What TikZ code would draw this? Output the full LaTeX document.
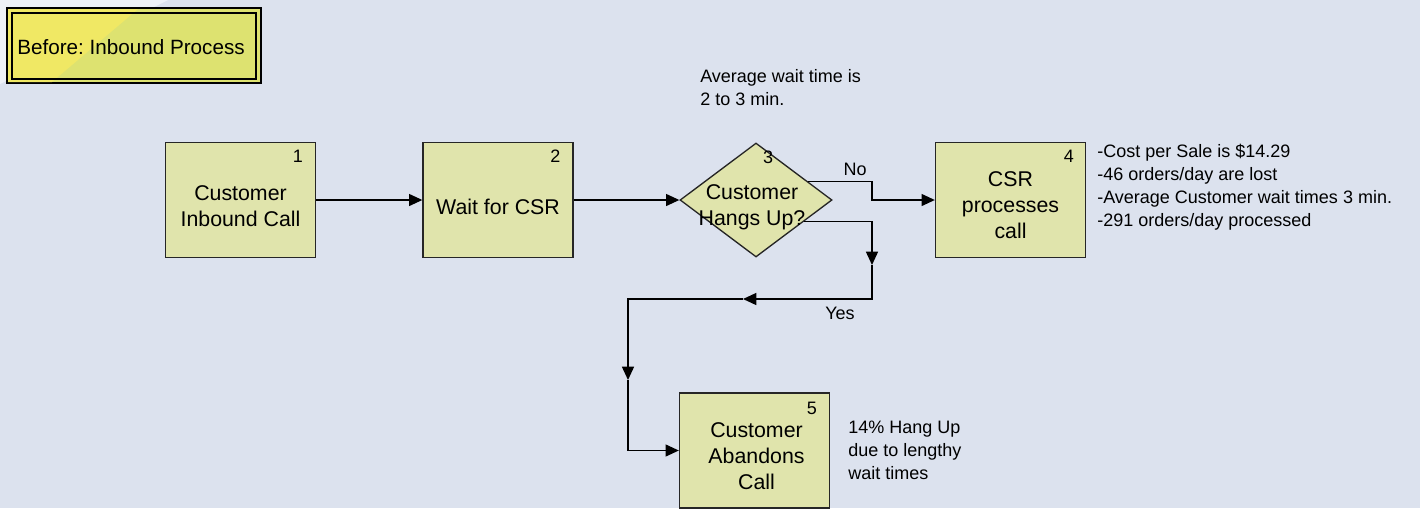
\documentclass[tikz,border=0pt]{standalone}
\usepackage{fontspec}
\setmainfont{Liberation Sans}
\usetikzlibrary{arrows.meta,shapes.geometric,calc}
\frenchspacing

\definecolor{bgblue}{RGB}{220,226,238}
\definecolor{cornerwhite}{RGB}{238,241,247}
\definecolor{boxfill}{RGB}{224,228,172}
\definecolor{titlegreen}{RGB}{221,226,112}
\definecolor{titleyellow}{RGB}{240,232,100}

\tikzset{
  procbox/.style={draw=black!85, line width=1pt, fill=boxfill, minimum width=112.5pt, minimum height=86.25pt, inner sep=0pt},
  decbox/.style={procbox, diamond, minimum width=114pt, minimum height=85.5pt},
  boxtext/.style={align=center, font=\fontsize{16}{19.5}\selectfont, inner sep=0pt},
  numtext/.style={font=\fontsize{13.5}{16}\selectfont, inner sep=0pt},
  notetext/.style={align=left, font=\fontsize{13.5}{17.25}\selectfont, inner sep=0pt, anchor=north west},
  flow/.style={line width=1.1pt, -{Triangle[length=10pt,width=9pt]}},
}

\begin{document}
\begin{tikzpicture}[x=0.75pt,y=0.75pt,yscale=-1,xscale=1]
\useasboundingbox (0,0) rectangle (1420,508);
%background
\fill[bgblue] (0,0) rectangle (1420,508);
\fill[cornerwhite] (0,0) -- (168,0) -- (0,84) -- cycle;

%Title box
\draw[line width=1.1pt, fill=titlegreen] (7,8) rectangle (261,83);
\fill[titleyellow] (8,9) -- (138,9) -- (52,82) -- (8,82) -- cycle;
\draw[line width=1.1pt] (12,13) rectangle (256,79);
% Text Node
\node[anchor=west, inner sep=0pt, font=\fontsize{15.5}{18}\selectfont] (title) at (17,47) {Before: Inbound Process};

%Process steps
\node[procbox] (b1) at (240.5,200) {};
\node[procbox] (b2) at (498,200) {};
\node[decbox] (d3) at (756,200) {};
\node[procbox] (b4) at (1010.5,200) {};
\node[procbox] (b5) at (754.5,450.5) {};

% Text Node
\node[boxtext] (t1) at ($(b1.center)+(0,6)$) {Customer\\Inbound Call};
\node[boxtext] (t2) at ($(b2.center)+(0,7)$) {Wait for CSR};
\node[boxtext] (t3) at ($(d3.center)+(-4,7)$) {Customer\\Hangs Up?};
\node[boxtext] (t4) at ($(b4.center)+(0,5)$) {CSR\\processes\\call};
\node[boxtext] (t5) at ($(b5.center)+(2,6)$) {Customer\\Abandons\\Call};

%Step numbers
\node[numtext, anchor=north east] (n1) at ($(b1.north east)+(-13,8)$) {1};
\node[numtext, anchor=north east] (n2) at ($(b2.north east)+(-13,8)$) {2};
\node[numtext, anchor=north] (n3) at ($(d3.north)+(12,8)$) {3};
\node[numtext, anchor=north east] (n4) at ($(b4.north east)+(-12,8)$) {4};
\node[numtext, anchor=north east] (n5) at ($(b5.north east)+(-13,10)$) {5};

%Connectors
\coordinate (d3no) at ($(d3.north)!0.68!(d3.east)$);
\coordinate (d3yes) at ($(d3.east)!0.37!(d3.south)$);
\coordinate (noturn) at (872,200);
\coordinate (yesA) at (872,265);
\coordinate (yesB) at (743,299);
\coordinate (yesC) at (628,380);

\draw[flow] (b1.east) -- (b2.west);
\draw[flow] (b2.east) -- (d3.west);
\draw[flow] (d3no) -| (noturn) -- (b4.west);
\draw[flow] (d3yes) -| (yesA);
\draw[flow] (yesA) |- (yesB);
\draw[flow] (yesB) -| (yesC);
\draw[flow] (yesC) |- (b5.west);

% Text Node
\node[numtext] (lno) at (855,169) {No};
\node[numtext] (lyes) at (840,313) {Yes};

%Notes
\node[notetext] (avgnote) at (700,69) {Average wait time is\\2 to 3 min.};
\node[notetext] (csrnote) at (1097,144) {-Cost per Sale is \$14.29\\-46 orders/day are lost\\-Average Customer wait times 3 min.\\-291 orders/day processed};
\node[notetext] (hangnote) at (848,421) {14\% Hang Up\\due to lengthy\\wait times};

\end{tikzpicture}
\end{document}
